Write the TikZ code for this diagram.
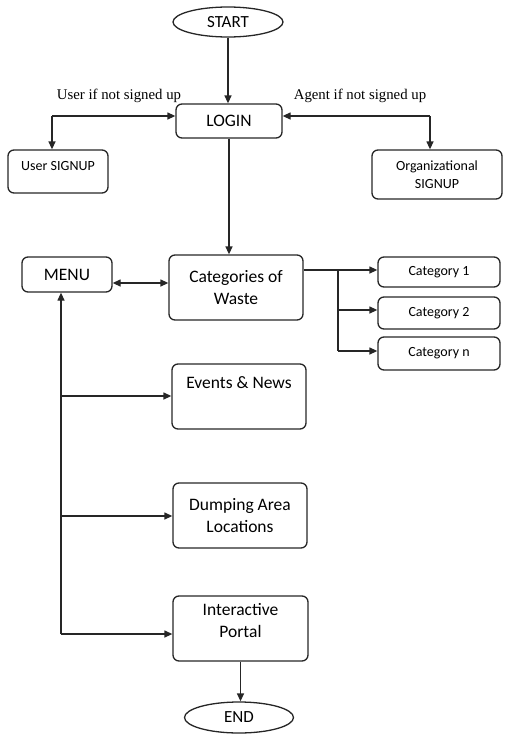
\documentclass[tikz,border=0pt]{standalone}
\usepackage{fontspec}
\setmainfont{Carlito}
\newfontfamily\lblfont{Liberation Serif}
\usetikzlibrary{arrows.meta,shapes.geometric}
\begin{document}
\begin{tikzpicture}[x=1pt,y=-1pt,
  line width=1.3pt,
  box/.style={draw=black!85,rounded corners=6pt,inner sep=0pt,align=center,font=\fontsize{17.5}{21.5}\selectfont},
  sbox/.style={draw=black!85,rounded corners=6pt,inner sep=0pt,align=center,font=\fontsize{14}{18}\selectfont},
  oval/.style={draw=black!85,ellipse,inner sep=0pt,font=\fontsize{17}{20}\selectfont},
  lbl/.style={font=\lblfont\fontsize{14.8}{17}\selectfont,inner sep=0pt},
  arr/.style={draw=black!85,-{Triangle[length=8pt,width=7pt]}},
  darr/.style={draw=black!85,{Triangle[length=8pt,width=7pt]}-{Triangle[length=8pt,width=7pt]}},
  ln/.style={draw=black!85}]
\useasboundingbox (0,0) rectangle (504,734);

% nodes
\node[oval,minimum width=110pt,minimum height=30pt] (start) at (228,22) {START};
\node[box,minimum width=106pt,minimum height=34pt] (login) at (229,121) {LOGIN};
\node[sbox,minimum width=100pt,minimum height=43pt] (usignup) at (58,171.5) {};
\node[sbox,inner sep=0pt,draw=none] (usignuptxt) at (58,166) {User SIGNUP};
\node[sbox,minimum width=130pt,minimum height=49pt] (osignup) at (437,174.5) {Organizational\\SIGNUP};
\node[box,minimum width=134pt,minimum height=65pt] (cat) at (236,287.5) {Categories of\\Waste};
\node[box,minimum width=90pt,minimum height=35pt] (menu) at (67,274.5) {MENU};
\node[sbox,minimum width=122pt,minimum height=30pt] (cat1) at (439,272) {Category 1};
\node[sbox,minimum width=122pt,minimum height=32pt] (cat2) at (439,313) {Category 2};
\node[sbox,minimum width=122pt,minimum height=33pt] (catn) at (439,353.5) {Category n};
\node[box,minimum width=134pt,minimum height=65pt] (events) at (239,396.5) {};
\node[box,draw=none] (eventstxt) at (239,383) {Events \&\ News};
\node[box,minimum width=134pt,minimum height=65pt] (dump) at (240,515.5) {Dumping Area\\Locations};
\node[box,minimum width=135pt,minimum height=65pt] (portal) at (240.5,628.5) {Interactive\\Portal\\[-5pt]};
\node[oval,minimum width=109pt,minimum height=31pt] (end) at (239,717.5) {END};

\node[lbl] (ulbl) at (119,96) {User if not signed up};
\node[lbl] (albl) at (360,96) {Agent if not signed up};

% coordinates
\coordinate (jl) at (52,116);
\coordinate (jr) at (430,116);
\coordinate (md) at (0,283);
\coordinate (jc) at (338,270);
\coordinate (jc2) at (338,310);
\coordinate (jcn) at (338,351);
\coordinate (jm1) at (61,396);
\coordinate (jm2) at (61,516);
\coordinate (jm3) at (61,634);

% connectors
\draw[arr] (start.south) -- (start.south |- login.north);
\draw[arr] (jl) -- (login.west |- jl);
\draw[arr] (jl) -- (jl |- usignup.north);
\draw[arr] (jr) -- (login.east |- jr);
\draw[arr] (jr) -- (jr |- osignup.north);
\draw[arr] (login.south) -- (login.south |- cat.north);
\draw[darr] (menu.east |- md) -- (cat.west |- md);
\draw[arr] (cat.east |- jc) -- (cat1.west |- jc);
\draw[ln] (jc) -- (jcn);
\draw[arr] (jc2) -- (cat2.west |- jc2);
\draw[arr] (jcn) -- (catn.west |- jcn);
\draw[arr] (jm3) -- (jm3 |- menu.south);
\draw[arr] (jm1) -- (events.west |- jm1);
\draw[arr] (jm2) -- (dump.west |- jm2);
\draw[arr] (jm3) -- (portal.west |- jm3);
\draw[arr] (portal.south) -- (portal.south |- end.north);
\end{tikzpicture}
\end{document}
